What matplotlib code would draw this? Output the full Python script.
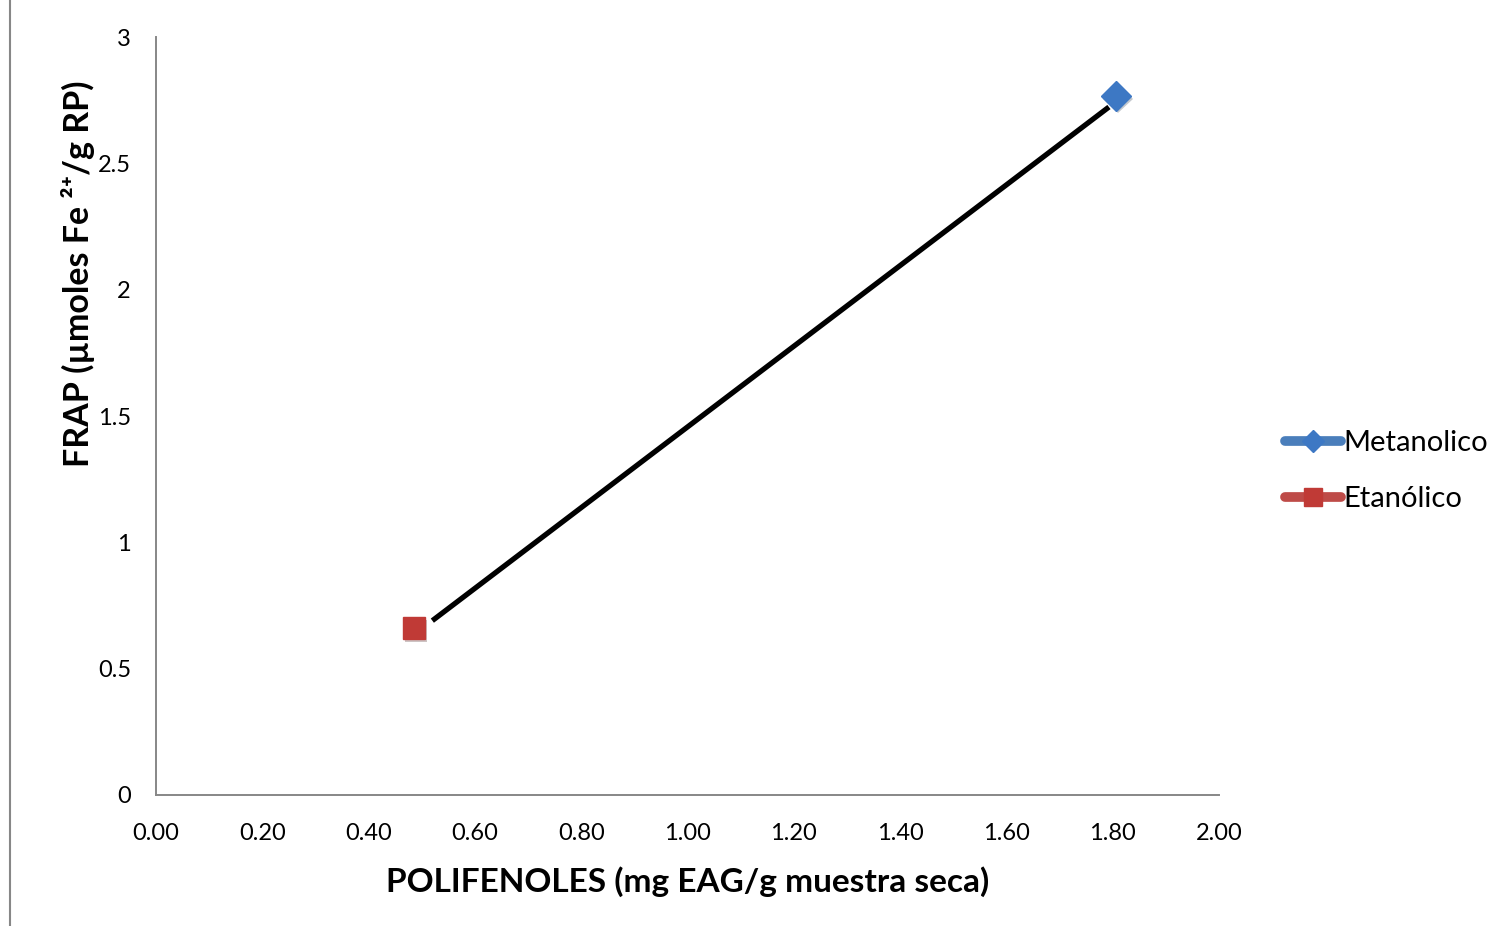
import matplotlib.pyplot as plt
from matplotlib.lines import Line2D
import matplotlib.patheffects as pe
import numpy as np

plt.rcParams['font.family'] = ['Lato', 'DejaVu Sans']

# data
series_names = ['Metanolico', 'Etanólico']
polifenoles = [1.806, 0.485]
frap = [2.767, 0.66]
series_colors = ['#4A7EBB', '#BE4B48']
marker_colors = ['#3D78C4', '#C03A36']
series_markers = ['D', 's']

# black connecting line (drawn between the two extracts)
line_x = [0.52, 1.793]
line_y = [0.69, 2.723]

x_ticks = np.arange(0, 2.01, 0.2)
y_ticks = [0, 0.5, 1, 1.5, 2, 2.5, 3]
y_tick_labels = ['0', '0.5', '1', '1.5', '2', '2.5', '3']

fig = plt.figure(figsize=(15.01, 9.26), dpi=100)
ax = fig.add_axes([0.1039, 0.1415, 0.7082, 0.8185])

ax.plot(line_x, line_y, color='black', lw=3.8, solid_capstyle='butt', zorder=2)

shadow = [pe.SimplePatchShadow(offset=(1.5, -2), alpha=0.25), pe.Normal()]
for name, x, y, c, mc, m in zip(series_names, polifenoles, frap, series_colors,
                                marker_colors, series_markers):
    ms = 15 if m == 'D' else 16
    ax.plot([x], [y], marker=m, ms=ms, color=c, mfc=mc, mec=mc, lw=7,
            solid_capstyle='round', label=name, zorder=3, path_effects=shadow)

ax.set_xlim(0, 2)
ax.set_ylim(0, 3)
ax.set_xticks(x_ticks)
ax.set_xticklabels([f'{v:.2f}' for v in x_ticks])
ax.set_yticks(y_ticks)
ax.set_yticklabels(y_tick_labels)
ax.tick_params(length=0, labelsize=17)
ax.tick_params(axis='x', pad=20)
ax.tick_params(axis='y', pad=18)

for s in ['top', 'right']:
    ax.spines[s].set_visible(False)
for s in ['left', 'bottom']:
    ax.spines[s].set_color('#878787')
    ax.spines[s].set_linewidth(1.4)

ax.set_xlabel('POLIFENOLES (mg EAG/g muestra seca)', fontsize=24, fontweight='bold', labelpad=16)
fig.text(0.052, 0.704, 'FRAP (µmoles Fe ²⁺/g RP)', rotation=90, fontsize=24.5,
         fontweight='bold', ha='center', va='center')

# legend with thick line handles
handles = [Line2D([0], [0], color=c, lw=7, marker=m, ms=11 if m == 'D' else 13,
                  mfc=mc, mec=mc, solid_capstyle='round')
           for c, mc, m in zip(series_colors, marker_colors, series_markers)]
fig.legend(handles, series_names, loc='center left', bbox_to_anchor=(0.8465, 0.491),
           frameon=False, fontsize=21, handlelength=1.9, handletextpad=0.1,
           labelspacing=1.02, borderpad=0)

fig.add_artist(Line2D([0.0067, 0.0067], [0, 1], color='#878787', lw=1.5,
                      transform=fig.transFigure))

fig.savefig('out.png', dpi=100)
